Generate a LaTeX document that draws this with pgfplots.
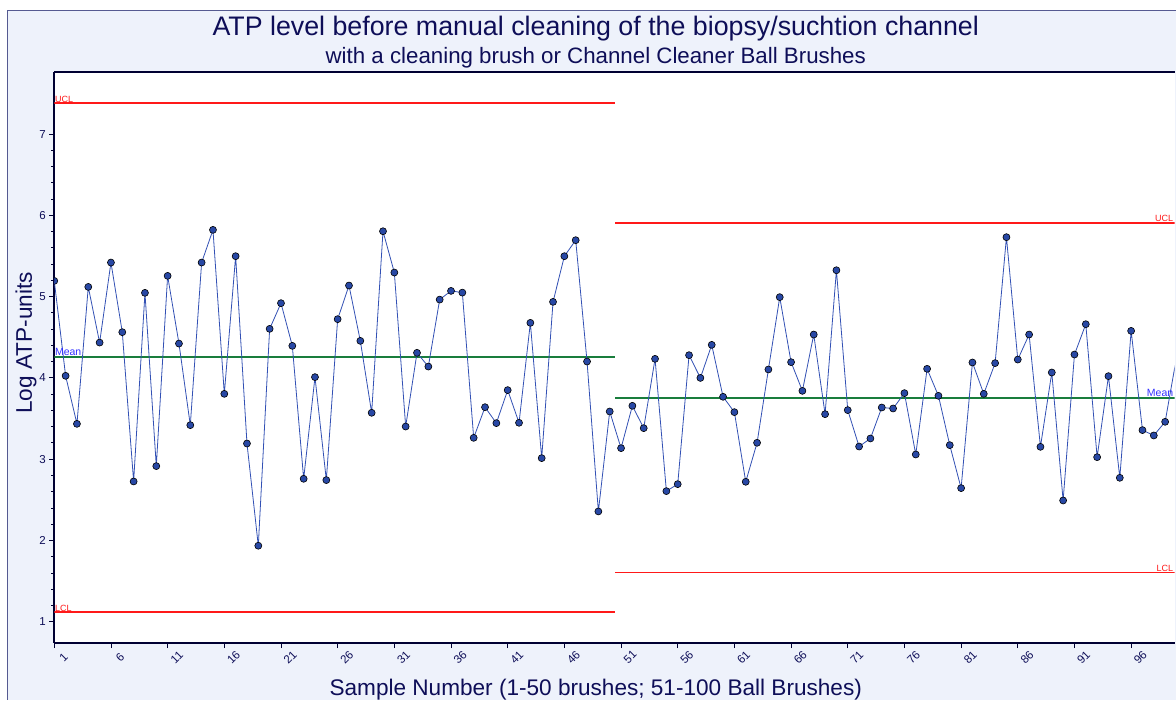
\documentclass[border=0pt]{standalone}
\usepackage{fontspec}
\setmainfont{Liberation Sans}
\usepackage{pgfplots}
\usepackage{pgfplotstable}
\pgfplotsset{compat=1.18}
\definecolor{panel}{RGB}{238,242,251}
\definecolor{framec}{RGB}{85,90,145}
\definecolor{navy}{RGB}{14,14,88}
\definecolor{axisc}{RGB}{0,0,50}
\definecolor{uclc}{RGB}{255,25,25}
\definecolor{meanc}{RGB}{25,125,60}
\definecolor{linec}{RGB}{50,80,180}
\definecolor{markc}{RGB}{40,72,165}
\definecolor{meantext}{RGB}{50,50,255}
\pgfplotstableread{
s v
1 5.194
2 4.026
3 3.435
4 5.12
5 4.435
6 5.42
7 4.563
8 2.726
9 5.047
10 2.915
11 5.256
12 4.423
13 3.419
14 5.42
15 5.822
16 3.804
17 5.498
18 3.193
19 1.935
20 4.604
21 4.92
22 4.395
23 2.759
24 4.01
25 2.743
26 4.723
27 5.137
28 4.456
29 3.571
30 5.805
31 5.297
32 3.402
33 4.309
34 4.14
35 4.964
36 5.071
37 5.05
38 3.263
39 3.64
40 3.444
41 3.85
42 3.448
43 4.678
44 3.013
45 4.936
46 5.498
47 5.695
48 4.202
49 2.357
50 3.587
51 3.136
52 3.657
53 3.382
54 4.235
55 2.607
56 2.693
57 4.28
58 4.0
59 4.407
60 3.768
61 3.579
62 2.722
63 3.202
64 4.104
65 4.994
66 4.194
67 3.841
68 4.534
69 3.554
70 5.325
71 3.604
72 3.156
73 3.255
74 3.636
75 3.624
76 3.813
77 3.058
78 4.112
79 3.78
80 3.173
81 2.644
82 4.19
83 3.804
84 4.182
85 5.732
86 4.226
87 4.534
88 3.152
89 4.067
90 2.492
91 4.288
92 4.661
93 3.025
94 4.022
95 2.771
96 4.579
97 3.358
98 3.292
99 3.46
100 4.25
}\atpdata
\begin{document}
\begin{tikzpicture}
\path (0pt,0pt) rectangle (1176pt,700pt);
\fill[panel] (8pt,0pt) rectangle (1176pt,689pt);
\draw[framec, line width=1pt] (8pt,0pt) -- (8pt,689pt) -- (1176pt,689pt);
\begin{axis}[
  at={(54.3pt,56.7pt)}, anchor=south west,
  scale only axis, width=1120.9pt, height=571.3pt,
  xmin=1, xmax=99.84, ymin=0.738, ymax=7.765,
  axis x line=box, axis y line=left,
  axis background/.style={fill=white},
  axis line style={axisc, line width=1.6pt, -},
  xtick pos=bottom, ytick pos=left,
  tick align=outside,
  major tick length=5pt, minor tick length=3pt,
  tick style={axisc, line width=0.9pt},
  xtick={1,6,...,96},
  ytick={1,2,...,7},
  minor y tick num=4,
  ticklabel style={font=\fontsize{11.5}{13}\selectfont, text=navy},
  /pgf/number format/assume math mode=true,
  xticklabel style={rotate=45, anchor=center, yshift=-13pt},
  clip=true, clip marker paths=true,
]
\addplot[uclc, line width=1.6pt] coordinates {(1,7.38) (50.5,7.38)};
\addplot[uclc, line width=1.6pt] coordinates {(50.5,5.91) (101,5.91)};
\addplot[uclc, line width=1.6pt] coordinates {(1,1.12) (50.5,1.12)};
\addplot[uclc, line width=1.6pt] coordinates {(50.5,1.606) (101,1.606)};
\addplot[meanc, line width=2pt] coordinates {(1,4.263) (50.5,4.263)};
\addplot[meanc, line width=2pt] coordinates {(50.5,3.759) (101,3.759)};
\addplot[linec, line width=0.8pt, mark=*, mark size=3.5pt,
  mark options={fill=markc, draw=black, line width=0.6pt}] table[x=s, y=v] {\atpdata};
\node[anchor=south west, inner sep=0.6pt, text=uclc, font=\fontsize{9}{10}\selectfont] at (axis cs:1,7.38) {UCL};
\node[anchor=south west, inner sep=0.6pt, text=uclc, font=\fontsize{9}{10}\selectfont] at (axis cs:1,1.12) {LCL};
\node[anchor=south west, inner sep=0.6pt, text=meantext, font=\fontsize{10.5}{12}\selectfont] at (axis cs:1,4.263) {Mean};
\node[anchor=south east, inner sep=0.6pt, text=uclc, font=\fontsize{9}{10}\selectfont] at (axis cs:99.78,5.91) {UCL};
\node[anchor=south east, inner sep=0.6pt, text=uclc, font=\fontsize{9}{10}\selectfont] at (axis cs:99.78,1.606) {LCL};
\node[anchor=south east, inner sep=0.6pt, text=meantext, font=\fontsize{10.5}{12}\selectfont] at (axis cs:99.78,3.759) {Mean};
\end{axis}
\node[anchor=base, text=navy, font=\fontsize{26.8}{30}\selectfont] at (596pt,664pt) {ATP level before manual cleaning of the biopsy/suchtion channel};
\node[anchor=base, text=navy, font=\fontsize{22.3}{25}\selectfont] at (596pt,636.7pt) {with a cleaning brush or Channel Cleaner Ball Brushes};
\node[anchor=base, text=navy, font=\fontsize{22.6}{26}\selectfont] at (596pt,4.5pt) {Sample Number (1-50 brushes; 51-100 Ball Brushes)};
\node[anchor=base, rotate=90, text=navy, font=\fontsize{22.6}{26}\selectfont] at (32pt,357pt) {Log ATP-units};
\end{tikzpicture}
\end{document}
